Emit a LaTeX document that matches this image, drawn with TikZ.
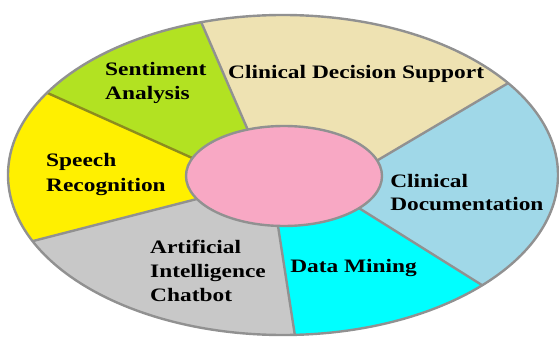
\documentclass[tikz,border=0pt]{standalone}
\usepackage{fontspec}
\setmainfont{Liberation Serif}
\usetikzlibrary{calc}
\definecolor{cSent}{RGB}{178,226,34}
\definecolor{cCDS}{RGB}{238,226,178}
\definecolor{cDoc}{RGB}{160,216,232}
\definecolor{cMine}{RGB}{0,255,255}
\definecolor{cChat}{RGB}{200,200,200}
\definecolor{cSpeech}{RGB}{255,240,0}
\definecolor{cPink}{RGB}{248,168,196}
\definecolor{cLine}{RGB}{145,145,145}
\definecolor{cOlive}{RGB}{140,140,30}
\begin{document}
\begin{tikzpicture}[x=1pt,y=-1pt,
  lbl/.style={anchor=base west, inner sep=0pt, xscale=1.23, font=\fontsize{19}{24}\selectfont\bfseries, text=black},
  sep/.style={draw=cLine, line width=2.4pt}]
\useasboundingbox (0,0) rectangle (559,339);
\coordinate (c) at (284,176);
\coordinate (p1) at (247,128); \coordinate (q1) at (202,24);
\coordinate (p2) at (378,160); \coordinate (q2) at (510,82);
\coordinate (p3) at (362,210); \coordinate (q3) at (485,287);
\coordinate (p4) at (278,226); \coordinate (q4) at (295,336);
\coordinate (p5) at (193,200); \coordinate (q5) at (37,240);
\coordinate (p6) at (190,157); \coordinate (q6) at (52,95);
\foreach \i in {1,...,6} \coordinate (f\i) at ($(p\i)!3!(q\i)$);
\begin{scope}
  \clip (283,175) ellipse [x radius=275, y radius=160];
  \fill[cCDS] (p1)--(f1)--(f2)--(p2)--(c)--cycle;
  \fill[cDoc] (p2)--(f2)--(f3)--(p3)--(c)--cycle;
  \fill[cMine] (p3)--(f3)--(f4)--(p4)--(c)--cycle;
  \fill[cChat] (p4)--(f4)--(f5)--(p5)--(c)--cycle;
  \fill[cSpeech] (p5)--(f5)--(f6)--(p6)--(c)--cycle;
  \fill[cSent] (p6)--(f6)--(f1)--(p1)--(c)--cycle;
  \foreach \i in {1,...,5} \draw[sep] ($(q\i)!1.15!(p\i)$) -- (f\i);
  \draw[sep, draw=cOlive] ($(q6)!1.15!(p6)$) -- (f6);
\end{scope}
\draw[sep] (283,175) ellipse [x radius=275, y radius=160];
\filldraw[fill=cPink, sep] (284,176) ellipse [x radius=98, y radius=50];
\node[lbl] (sent1) at (105,76) {Sentiment};
\node[lbl] (sent2) at (105,100) {Analysis};
\node[lbl] (cds) at (228,79) {Clinical Decision Support};
\node[lbl] (sp1) at (46,167) {Speech};
\node[lbl] (sp2) at (46,191) {Recognition};
\node[lbl] (doc1) at (390,187) {Clinical};
\node[lbl] (doc2) at (390,211) {Documentation};
\node[lbl] (dm) at (290,272) {Data Mining};
\node[lbl] (ai1) at (150,253) {Artificial};
\node[lbl] (ai2) at (150,277) {Intelligence};
\node[lbl] (ai3) at (150,301) {Chatbot};
\end{tikzpicture}
\end{document}
